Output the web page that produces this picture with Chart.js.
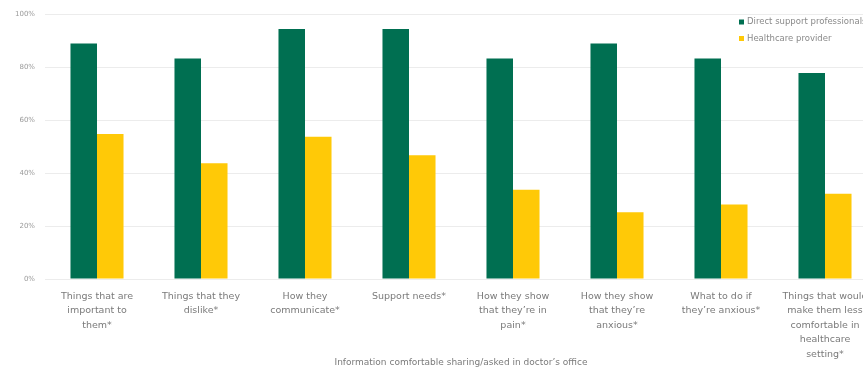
<!DOCTYPE html>
<html>
<head>
<meta charset="utf-8">
<script src="https://cdn.jsdelivr.net/npm/chart.js@4/dist/chart.umd.min.js"></script>
<style>
  html, body { margin: 0; padding: 0; background: #fff; overflow: hidden; }
  #wrap { width: 880px; height: 369px; }
</style>
</head>
<body>
<div id="wrap"><canvas id="bar_chart_canvas" width="880" height="369"></canvas></div>
<script>
// categories (multi-line labels as shown under each bar pair)
var categories = [
  ['Things that are', 'important to', 'them*'],
  ['Things that they', 'dislike*'],
  ['How they', 'communicate*'],
  ['Support needs*'],
  ['How they show', 'that they\u2019re in', 'pain*'],
  ['How they show', 'that they\u2019re', 'anxious*'],
  ['What to do if', 'they\u2019re anxious*'],
  ['Things that would', 'make them less', 'comfortable in', 'healthcare', 'setting*']
];

var series_names = ['Direct support professionals', 'Healthcare provider'];
var dsp_values = [88.9, 83.3, 94.4, 94.4, 83.3, 88.9, 83.3, 77.8];
var hcp_values = [54.8, 43.7, 53.7, 46.7, 33.7, 25.2, 28.1, 32.2];
var y_ticks = [0, 20, 40, 60, 80, 100];
var x_title = 'Information comfortable sharing/asked in doctor\u2019s office';

var green = '#006f51';
var yellow = '#ffc907';

// legend drawn inside the plot, top right
var cornerLegend = {
  id: 'cornerLegend',
  afterDraw: function(chart) {
    var ctx = chart.ctx;
    ctx.save();
    ctx.font = '8.5px "DejaVu Sans"';
    ctx.textBaseline = 'middle';
    chart.data.datasets.forEach(function(ds, i) {
      var y = 22 + i * 16.5;
      ctx.fillStyle = ds.backgroundColor;
      ctx.fillRect(739, y - 2.5, 5, 5);
      ctx.fillStyle = '#8a8a8a';
      ctx.fillText(ds.label, 747, y);
    });
    ctx.restore();
  }
};

var ctx = document.getElementById('bar_chart_canvas').getContext('2d');
var chart = new Chart(ctx, {
    type: 'bar',
    data: {
        labels: categories,
        datasets: [{
            label: series_names[0],
            data: dsp_values,
            backgroundColor: green
        }, {
            label: series_names[1],
            data: hcp_values,
            backgroundColor: yellow
        }]
    },
    options: {
        responsive: false,
        animation: false,
        categoryPercentage: 0.51,
        barPercentage: 1.0,
        layout: { padding: { top: 9, right: 3, left: 0, bottom: 0 } },
        plugins: {
            legend: { display: false },
            tooltip: { enabled: false }
        },
        scales: {
            x: {
                grid: { display: false },
                border: { display: false },
                ticks: {
                    autoSkip: false,
                    maxRotation: 0,
                    minRotation: 0,
                    padding: 2,
                    color: '#7a7a7a',
                    font: { family: 'DejaVu Sans', size: 9.5, lineHeight: 1.53 }
                },
                title: {
                    display: true,
                    text: x_title,
                    color: '#7a7a7a',
                    font: { family: 'DejaVu Sans', size: 9 },
                    padding: { top: 0, bottom: 1 }
                },
                afterFit: function(scale) { scale.height = 90; }
            },
            y: {
                min: 0,
                max: 100,
                afterBuildTicks: function(scale) {
                    scale.ticks = y_ticks.map(function(v) { return { value: v }; });
                },
                grid: { color: '#ececec', drawTicks: false },
                border: { display: false },
                ticks: {
                    padding: 10,
                    color: '#9a9a9a',
                    font: { family: 'DejaVu Sans', size: 7 },
                    callback: function(v) { return v + '%'; }
                },
                afterFit: function(scale) { scale.width = 45; }
            }
        }
    },
    plugins: [cornerLegend]
});
</script>
</body>
</html>
